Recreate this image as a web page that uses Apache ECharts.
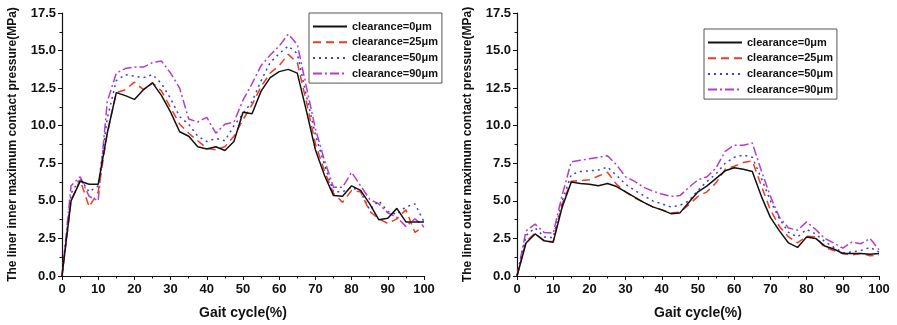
<!DOCTYPE html>
<html>
<head>
<meta charset="utf-8">
<script src="https://cdn.jsdelivr.net/npm/echarts@6/dist/echarts.min.js"></script>
<style>
  html, body { margin: 0; padding: 0; background: #fff; }
  #chart { width: 897px; height: 325px; }
</style>
</head>
<body>
<div id="chart"></div>
<script>
// Gait cycle sample points (%)
const gait = [0, 2.5, 5, 7.5, 10, 12.5, 15, 17.5, 20, 22.5, 25, 27.5, 30, 32.5, 35, 37.5, 40, 42.5, 45, 47.5,
  50, 52.5, 55, 57.5, 60, 62.5, 65, 67.5, 70, 72.5, 75, 77.5, 80, 82.5, 85, 87.5, 90, 92.5, 95, 97.5, 100];

const seriesNames = ['clearance=0\u03bcm', 'clearance=25\u03bcm', 'clearance=50\u03bcm', 'clearance=90\u03bcm'];

// Liner inner maximum contact pressure (MPa)
const inner0 = [0, 5.0, 6.3, 6.1, 6.1, 9.5, 12.2, 12.0, 11.75, 12.4, 12.85, 12.0, 10.9, 9.6, 9.3, 8.6, 8.45, 8.6, 8.35, 8.95,
  10.9, 10.8, 12.3, 13.2, 13.6, 13.75, 13.5, 11.0, 8.4, 6.7, 5.35, 5.3, 6.0, 5.7, 4.8, 3.75, 3.85, 4.5, 3.6, 3.6, 3.6];
const inner25 = [0, 5.0, 6.4, 4.6, 5.6, 9.5, 12.2, 12.4, 12.9, 12.4, 12.85, 12.3, 11.2, 10.1, 9.5, 9.0, 8.5, 8.4, 8.6, 9.3,
  10.4, 11.4, 12.6, 13.5, 14.0, 14.75, 14.2, 11.6, 8.8, 7.0, 5.5, 4.9, 5.7, 5.6, 4.3, 3.8, 3.5, 3.8, 4.4, 2.9, 3.3];
const inner50 = [0, 5.5, 6.5, 5.6, 6.0, 10.5, 13.0, 13.4, 13.3, 13.2, 13.4, 12.8, 11.8, 10.6, 10.1, 9.3, 8.95, 9.15, 9.0, 10.0,
  10.8, 11.6, 13.0, 14.2, 14.8, 15.3, 14.8, 12.0, 9.4, 7.4, 5.6, 5.6, 5.9, 5.6, 4.4, 5.0, 4.3, 4.1, 4.6, 4.8, 3.6];
const inner90 = [0, 6.0, 6.6, 5.3, 5.0, 11.6, 13.5, 13.8, 13.9, 13.9, 14.2, 14.3, 13.5, 12.5, 10.45, 10.25, 10.55, 9.5, 10.1, 10.25,
  11.7, 12.8, 14.0, 14.7, 15.3, 16.1, 15.4, 12.6, 9.8, 7.7, 5.9, 5.9, 6.9, 6.0, 5.1, 4.8, 4.2, 3.9, 3.3, 3.8, 3.3];

// Liner outer maximum contact pressure (MPa)
const outer0 = [0, 2.2, 2.8, 2.35, 2.25, 4.6, 6.25, 6.15, 6.1, 6.0, 6.15, 5.95, 5.6, 5.25, 4.9, 4.6, 4.4, 4.15, 4.2, 4.9,
  5.6, 6.0, 6.5, 7.0, 7.2, 7.1, 6.95, 5.3, 3.9, 3.0, 2.2, 1.9, 2.6, 2.5, 2.0, 1.8, 1.5, 1.5, 1.5, 1.45, 1.5];
const outer25 = [0, 2.3, 2.85, 2.3, 2.3, 4.8, 6.3, 6.35, 6.4, 6.65, 6.9, 6.1, 5.6, 5.2, 4.9, 4.6, 4.4, 4.2, 4.25, 4.75,
  5.3, 5.6, 6.2, 7.1, 7.3, 7.55, 7.65, 6.0, 4.4, 3.3, 2.6, 2.2, 2.65, 2.6, 1.9, 1.7, 1.5, 1.4, 1.5, 1.35, 1.4];
const outer50 = [0, 2.7, 3.2, 2.6, 2.55, 5.0, 6.75, 6.95, 7.0, 7.05, 7.25, 6.7, 6.1, 5.7, 5.35, 5.0, 4.8, 4.6, 4.7, 5.0,
  5.7, 6.3, 6.8, 7.5, 7.9, 8.05, 7.9, 6.5, 5.0, 3.8, 2.9, 2.6, 3.1, 2.8, 2.3, 1.9, 1.55, 1.6, 1.7, 1.9, 1.6];
const outer90 = [0, 3.0, 3.45, 2.9, 2.85, 5.4, 7.6, 7.7, 7.8, 7.9, 8.0, 7.4, 6.6, 6.3, 5.9, 5.65, 5.45, 5.3, 5.35, 5.9,
  6.4, 6.6, 7.2, 8.3, 8.7, 8.7, 8.85, 7.0, 5.3, 3.9, 3.2, 3.05, 3.6, 3.1, 2.5, 2.2, 1.85, 2.25, 2.15, 2.5, 1.75];

// Axis tick values
const xTicks = { min: 0, max: 100, step: 10 };
const yTicks = { min: 0, max: 17.5, step: 2.5 };

const innerSets = [inner0, inner25, inner50, inner90];
const outerSets = [outer0, outer25, outer50, outer90];

const colors = ['#111111', '#f03a22', '#3d3dd2', '#b53ccb'];
const dashes = ['solid', [8, 5], [2, 4], [9, 3, 2, 3]];

const fontMain = '"Liberation Sans", Arial, sans-serif';

function pairs(ys) {
  return gait.map((g, i) => [g, ys[i]]);
}

function makeX(gridIndex) {
  return {
    type: 'value', gridIndex,
    min: xTicks.min, max: xTicks.max, interval: xTicks.step,
    name: 'Gait cycle(%)', nameLocation: 'middle', nameGap: 30,
    nameTextStyle: { fontFamily: fontMain, fontWeight: 'bold', fontSize: 14, color: '#111' },
    axisLine: { show: true, lineStyle: { color: '#111', width: 1.2 } },
    axisTick: { show: true, inside: false, length: 4, lineStyle: { color: '#111' } },
    minorTick: { show: true, splitNumber: 2, length: 2.5, lineStyle: { color: '#111' } },
    axisLabel: { fontFamily: fontMain, fontWeight: 'bold', fontSize: 13, color: '#111', margin: 7 },
    splitLine: { show: false }
  };
}

function makeY(gridIndex, title) {
  return {
    type: 'value', gridIndex,
    min: yTicks.min, max: yTicks.max, interval: yTicks.step,
    name: title, nameLocation: 'middle', nameGap: 43, nameRotate: 90,
    nameTextStyle: { fontFamily: fontMain, fontWeight: 'bold', fontSize: 12, color: '#111' },
    axisLine: { show: true, lineStyle: { color: '#111', width: 1.2 } },
    axisTick: { show: true, inside: false, length: 4, lineStyle: { color: '#111' } },
    minorTick: { show: true, splitNumber: 2, length: 2.5, lineStyle: { color: '#111' } },
    axisLabel: { fontFamily: fontMain, fontWeight: 'bold', fontSize: 13, color: '#111', margin: 6,
      formatter: v => v.toFixed(1) },
    splitLine: { show: false }
  };
}

function makeSeries(sets, idx) {
  return sets.map((ys, k) => ({
    name: seriesNames[k], type: 'line',
    xAxisIndex: idx, yAxisIndex: idx,
    data: pairs(ys),
    showSymbol: false, symbol: 'none',
    lineStyle: { color: colors[k], width: 1.5, type: dashes[k] },
    itemStyle: { color: colors[k] },
    z: 10 - k,
    animation: false
  }));
}

function makeLegend(left, top) {
  return {
    left, top, orient: 'vertical',
    data: seriesNames,
    itemWidth: 34, itemHeight: 12, itemGap: 4.7,
    padding: [8, 4, 4, 3],
    borderColor: '#555', borderWidth: 1,
    backgroundColor: '#fff',
    selectedMode: false,
    itemStyle: { opacity: 0 },
    textStyle: { fontFamily: fontMain, fontWeight: 'bold', fontSize: 11, color: '#111' }
  };
}

const chart = echarts.init(document.getElementById('chart'), null, { renderer: 'canvas' });
chart.setOption({
  animation: false,
  backgroundColor: '#fff',
  grid: [
    { left: 62, right: 473, top: 13, bottom: 46 },
    { left: 517, right: 18, top: 13, bottom: 46 }
  ],
  xAxis: [makeX(0), makeX(1)],
  yAxis: [
    makeY(0, 'The liner inner maximum contact pressure(MPa)'),
    makeY(1, 'The liner outer maximum contact pressure(MPa)')
  ],
  legend: [makeLegend(309, 13), makeLegend(704, 29)],
  series: [...makeSeries(innerSets, 0), ...makeSeries(outerSets, 1)]
});
</script>
</body>
</html>
